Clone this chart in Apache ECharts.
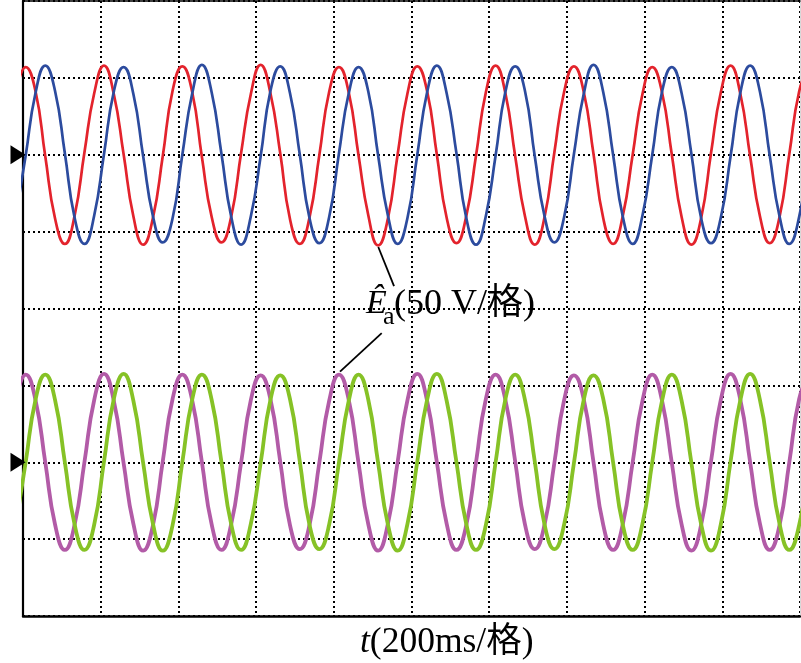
<!DOCTYPE html>
<html>
<head>
<meta charset="utf-8">
<script src="https://cdn.jsdelivr.net/npm/echarts/dist/echarts.min.js"></script>
<style>
html,body{margin:0;padding:0;background:#fff;}
#chart{width:801px;height:663px;}
</style>
</head>
<body>
<div id="chart"></div>
<script>
// time samples (ms), read at the eighth-period points of the traces
const timesMs = [-18.3,
 6.9,32.1,57.3,82.5,107.7,132.9,158.1,183.3,
 208.5,233.7,258.9,284.1,309.3,334.5,359.7,384.9,
 410.1,435.3,460.5,485.7,510.9,536.1,561.3,586.5,
 611.7,636.9,662.1,687.3,712.5,737.7,762.9,788.1,
 813.3,838.5,863.7,888.9,914.1,939.3,964.5,989.7,
 1014.9,1040.1,1065.3,1090.5,1115.7,1140.9,1166.1,1191.3,
 1216.5,1241.7,1266.9,1292.1,1317.3,1342.5,1367.7,1392.9,
 1418.1,1443.3,1468.5,1493.7,1518.9,1544.1,1569.3,1594.5,
 1619.7,1644.9,1670.1,1695.3,1720.5,1745.7,1770.9,1796.1,
 1821.3,1846.5,1871.7,1896.9,1922.1,1947.3,1972.5,1997.7,
 2022.9];

// upper pair (divisions, zero reference at +2)
const redValues = [2.80,
 3.14,2.83,1.98,1.17,0.84,1.21,2.03,2.80,
 3.16,2.79,2.01,1.20,0.83,1.18,1.98,2.83,
 3.15,2.82,1.97,1.19,0.86,1.20,2.02,2.79,
 3.17,2.80,2.02,1.16,0.84,1.19,2.00,2.82,
 3.14,2.81,1.99,1.21,0.82,1.17,2.01,2.80,
 3.15,2.83,2.00,1.18,0.85,1.20,1.99,2.81,
 3.16,2.80,1.98,1.20,0.83,1.19,2.03,2.82,
 3.15,2.82,2.01,1.17,0.84,1.21,2.00,2.79,
 3.14,2.81,2.00,1.19,0.83,1.18,2.02,2.81,
 3.16,2.79,1.98,1.20,0.85,1.19,2.01,2.82,
 3.15];
const blueValues = [1.20,
 1.99,2.80,3.16,2.83,2.02,1.18,0.84,1.21,
 2.01,2.82,3.14,2.79,1.98,1.20,0.86,1.17,
 2.00,2.79,3.17,2.81,2.01,1.19,0.83,1.20,
 1.98,2.83,3.15,2.80,2.00,1.17,0.85,1.19,
 2.02,2.80,3.14,2.82,1.99,1.21,0.84,1.18,
 2.00,2.81,3.16,2.80,2.02,1.18,0.83,1.20,
 1.99,2.82,3.15,2.83,1.98,1.20,0.86,1.19,
 2.01,2.79,3.17,2.81,2.00,1.19,0.84,1.21,
 2.00,2.82,3.14,2.80,2.01,1.17,0.85,1.18,
 1.98,2.81,3.16,2.82,1.99,1.20,0.84,1.19,
 2.01];
// lower pair (divisions, zero reference at -2)
const magentaValues = [-1.19,
 -0.86,-1.19,-2.00,-2.81,-3.14,-2.81,-2.00,-1.19,
 -0.85,-1.20,-2.01,-2.80,-3.15,-2.82,-1.99,-1.18,
 -0.86,-1.19,-2.00,-2.81,-3.14,-2.80,-2.01,-1.19,
 -0.87,-1.18,-1.99,-2.82,-3.13,-2.81,-2.00,-1.20,
 -0.86,-1.19,-2.01,-2.81,-3.15,-2.80,-1.99,-1.19,
 -0.85,-1.20,-2.00,-2.80,-3.14,-2.82,-2.00,-1.18,
 -0.86,-1.19,-1.99,-2.81,-3.13,-2.81,-2.01,-1.19,
 -0.87,-1.18,-2.00,-2.82,-3.14,-2.80,-2.00,-1.20,
 -0.86,-1.20,-2.01,-2.81,-3.15,-2.81,-1.99,-1.19,
 -0.85,-1.19,-2.00,-2.80,-3.14,-2.82,-2.00,-1.18,
 -0.86];
const greenValues = [-2.81,
 -2.00,-1.19,-0.86,-1.19,-2.00,-2.81,-3.14,-2.81,
 -1.99,-1.18,-0.85,-1.20,-2.01,-2.80,-3.15,-2.82,
 -2.00,-1.19,-0.86,-1.19,-2.00,-2.81,-3.14,-2.80,
 -2.01,-1.19,-0.87,-1.18,-1.99,-2.82,-3.13,-2.81,
 -2.00,-1.20,-0.86,-1.19,-2.01,-2.81,-3.15,-2.80,
 -1.99,-1.19,-0.85,-1.20,-2.00,-2.80,-3.14,-2.82,
 -2.00,-1.18,-0.86,-1.19,-1.99,-2.81,-3.13,-2.81,
 -2.01,-1.19,-0.87,-1.18,-2.00,-2.82,-3.14,-2.80,
 -2.00,-1.20,-0.86,-1.20,-2.01,-2.81,-3.15,-2.81,
 -1.99,-1.19,-0.85,-1.19,-2.00,-2.80,-3.14,-2.82,
 -2.00];

const zeroRefs = [2, -2];
const xTitle = '(200ms/格)';
const annoText = '(50 V/格)';

const serif = '"Liberation Serif","Times New Roman","Noto Sans CJK SC",serif';
const pairs = v => timesMs.map((t, i) => [t, v[i]]);
const dotted = {color: '#000', width: 2, type: [2, 3]};

const chart = echarts.init(document.getElementById('chart'), null, {renderer: 'canvas'});
chart.setOption({
  animation: false,
  backgroundColor: '#fff',
  grid: {left: 23, top: 1, width: 777, height: 615, show: false},
  xAxis: [{
    type: 'value', min: 0, max: 2000, interval: 200,
    axisLine: {show: true, onZero: false, lineStyle: {color: '#000', width: 2.5}},
    axisTick: {show: false}, axisLabel: {show: false},
    splitLine: {show: true, lineStyle: dotted}
  }, {
    type: 'value', position: 'top', min: 0, max: 2000,
    axisLine: {show: true, onZero: false, lineStyle: {color: '#000', width: 1.5}},
    axisTick: {show: false}, axisLabel: {show: false}, splitLine: {show: false}
  }],
  yAxis: [{
    type: 'value', min: -4, max: 4, interval: 1,
    axisLine: {show: true, onZero: false, lineStyle: {color: '#000', width: 2.2}},
    axisTick: {show: false}, axisLabel: {show: false},
    splitLine: {show: true, lineStyle: dotted}
  }, {
    type: 'value', position: 'right', min: -4, max: 4,
    axisLine: {show: true, onZero: false, lineStyle: {color: '#d8d8d8', width: 1}},
    axisTick: {show: false}, axisLabel: {show: false}, splitLine: {show: false}
  }],
  series: [
    {
      type: 'line', data: pairs(redValues), smooth: true, showSymbol: false,
      lineStyle: {color: '#e3232c', width: 2.7}, z: 3,
      markPoint: {
        symbol: 'triangle', symbolSize: [19, 15], symbolRotate: -90, symbolOffset: [-5, 0],
        itemStyle: {color: '#000'}, label: {show: false}, silent: true,
        data: zeroRefs.map(v => ({coord: [0, v]}))
      },
      markLine: {
        silent: true, symbol: 'none', label: {show: false},
        lineStyle: {color: '#000', width: 1.8, type: 'solid'},
        data: [
          [{coord: [914.5, 0.80]}, {coord: [955, 0.29]}],
          [{coord: [923.3, -0.32]}, {coord: [816, -0.82]}]
        ]
      }
    },
    {type: 'line', data: pairs(blueValues), smooth: true, showSymbol: false,
     lineStyle: {color: '#2c4b9e', width: 2.7}, z: 4},
    {type: 'line', data: pairs(magentaValues), smooth: true, showSymbol: false,
     lineStyle: {color: '#b25ba7', width: 3.8}, z: 3},
    {type: 'line', data: pairs(greenValues), smooth: true, showSymbol: false,
     lineStyle: {color: '#86c226', width: 3.8}, z: 4}
  ],
  graphic: [
    {type: 'text', x: 360, y: 643, style: {
      text: '{i|t}{n|' + xTitle + '}', verticalAlign: 'middle', align: 'left',
      rich: {
        i: {fontFamily: serif, fontStyle: 'italic', fontSize: 35.5, fill: '#000'},
        n: {fontFamily: serif, fontSize: 35.5, fill: '#000'}
      }
    }},
    {type: 'text', x: 366, y: 304, style: {
      text: 'Ê', fontFamily: serif, fontStyle: 'italic', fontSize: 34, fill: '#000',
      verticalAlign: 'middle', align: 'left'
    }},
    {type: 'text', x: 383, y: 317, style: {
      text: 'a', fontFamily: serif, fontSize: 26, fill: '#000',
      verticalAlign: 'middle', align: 'left'
    }},
    {type: 'text', x: 394, y: 305, style: {
      text: annoText, fontFamily: serif, fontSize: 36, fill: '#000',
      verticalAlign: 'middle', align: 'left'
    }}
  ]
});
</script>
</body>
</html>
